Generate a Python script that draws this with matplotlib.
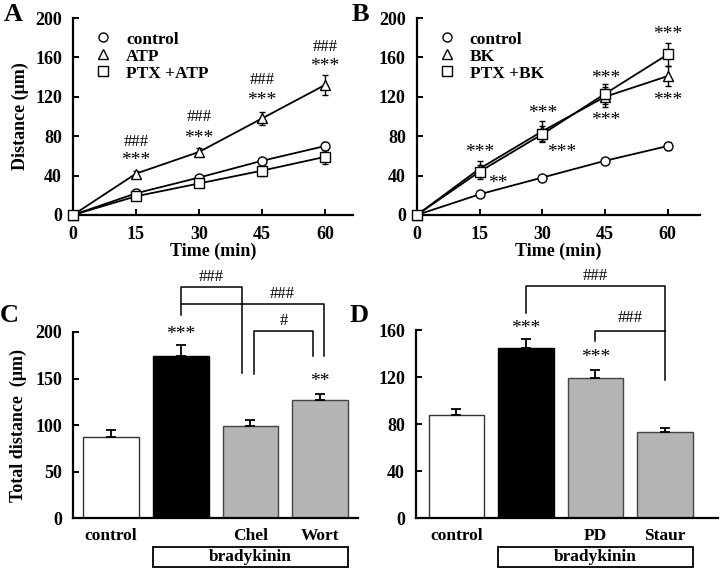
import matplotlib
matplotlib.use("Agg")
import matplotlib.pyplot as plt
from matplotlib.patches import Rectangle
from matplotlib.lines import Line2D

plt.rcParams['font.family'] = ['Liberation Serif', 'DejaVu Serif']
plt.rcParams['font.weight'] = 'bold'

# ---- data ----
time = [0, 15, 30, 45, 60]
a_control = [0, 22, 38, 55, 70]
a_control_err = [0, 2, 2, 3, 4]
a_atp = [0, 42, 64, 98, 132]
a_atp_err = [0, 3, 4, 7, 10]
a_ptx_atp = [0, 19, 32, 45, 59]
a_ptx_atp_err = [0, 2, 2, 5, 7]

b_control = [0, 21, 38, 55, 70]
b_control_err = [0, 2, 2, 3, 4]
b_bk = [0, 47, 85, 120, 141]
b_bk_err = [0, 8, 10, 10, 10]
b_ptx_bk = [0, 44, 82, 123, 163]
b_ptx_bk_err = [0, 7, 8, 10, 12]

c_labels = ['control', '', 'Chel', 'Wort']
c_values = [87, 174, 99, 127]
c_err = [8, 12, 6, 6]
d_labels = ['control', '', 'PD', 'Staur']
d_values = [88, 145, 119, 73]
d_err = [5, 7, 7, 4]

bar_colors = ['white', 'black', '#b4b4b4', '#b4b4b4']

fig = plt.figure(figsize=(7.2, 5.68), dpi=100)

FS = 12.5
TFS = 13
AST = 14

def style_axes(ax):
    for s in ['top', 'right']:
        ax.spines[s].set_visible(False)
    for s in ['left', 'bottom']:
        ax.spines[s].set_linewidth(1.6)
    ax.tick_params(direction='in', width=1.4, length=4, labelsize=TFS, pad=8)
    for t in ax.get_xticklabels() + ax.get_yticklabels():
        t.set_fontweight('bold')

def line_panel(ax, series, labels, xmax):
    markers = ['o', '^', 's']
    handles = []
    for (y, e), lab, m in zip(series, labels, markers):
        ms = 6.5 if m != '^' else 7
        ax.errorbar(time, y, yerr=e, color='black', lw=1.3, marker=m,
                    markersize=ms, markerfacecolor='white',
                    markeredgecolor='black', markeredgewidth=1.0,
                    capsize=2.5, elinewidth=1.0, capthick=1.0,
                    clip_on=False, zorder=3)
        handles.append(Line2D([], [], linestyle='none', marker=m, markersize=ms,
                              markerfacecolor='white', markeredgecolor='black',
                              markeredgewidth=1.0, label=lab))
    ax.set_xlim(0, xmax)
    ax.set_ylim(0, 200)
    ax.set_xticks([0, 15, 30, 45, 60])
    ax.set_yticks([0, 40, 80, 120, 160, 200])
    ax.set_xlabel('Time (min)', fontsize=FS + 0.5, fontweight='bold', labelpad=0)
    style_axes(ax)
    ax.legend(handles=handles, loc='upper left', bbox_to_anchor=(0.04, 0.985), frameon=False,
              handlelength=1.0, handletextpad=0.8, labelspacing=0.05,
              prop={'size': FS, 'weight': 'bold'}, borderaxespad=0.2)

# ---- Panel A ----
axA = fig.add_axes([0.1014, 0.6215, 0.389, 0.3468])
line_panel(axA, [(a_control, a_control_err), (a_atp, a_atp_err), (a_ptx_atp, a_ptx_atp_err)],
           ['control', 'ATP', 'PTX +ATP'], 66.7)
axA.set_ylabel('Distance (μm)', fontsize=FS + 0.5, fontweight='bold', labelpad=4)
for x, yh, ys in zip(time[1:], [74, 99, 137, 171], [55, 78, 116, 151]):
    axA.text(x, yh, '###', ha='center', va='center', fontsize=FS - 0.5, fontweight='normal')
    axA.text(x, ys, '***', ha='center', va='center', fontsize=AST, fontweight='normal')

# ---- Panel B ----
axB = fig.add_axes([0.579, 0.6215, 0.393, 0.3468])
line_panel(axB, [(b_control, b_control_err), (b_bk, b_bk_err), (b_ptx_bk, b_ptx_bk_err)],
           ['control', 'BK', 'PTX +BK'], 67.7)
b_ann = [(15, 63, '***'), (19.4, 32, '**'), (30, 103, '***'), (34.7, 63, '***'),
         (45.2, 139, '***'), (45.2, 96, '***'), (60, 183, '***'), (60, 116, '***')]
for x, y, s in b_ann:
    axB.text(x, y, s, ha='center', va='center', fontsize=AST, fontweight='normal')

# ---- bar panels ----
def bar_panel(ax, values, err, labels, ylim, yticks, xlim):
    xs = list(range(len(values)))
    ax.bar(xs, values, width=0.8, color=bar_colors, edgecolor=['#333333', 'black', '#444444', '#444444'],
           linewidth=1.0, zorder=2)
    ax.errorbar(xs, values, yerr=[[0] * len(err), err], fmt='none', ecolor='black',
                elinewidth=1.3, capsize=3.5, capthick=1.3, zorder=3)
    ax.set_xlim(*xlim)
    ax.set_ylim(*ylim)
    ax.set_yticks(yticks)
    ax.set_xticks([])
    style_axes(ax)
    ax.spines['bottom'].set_zorder(4)
    for x, lab in zip(xs, labels):
        ax.text(x, -0.095, lab, transform=ax.get_xaxis_transform(), ha='center', va='center',
                fontsize=FS, fontweight='bold')
    # bradykinin box
    ax.add_patch(Rectangle((0.6, -0.262), 2.8, 0.107, transform=ax.get_xaxis_transform(),
                           facecolor='white', edgecolor='black', lw=1.3, clip_on=False))
    ax.text(2.0, -0.21, 'bradykinin', transform=ax.get_xaxis_transform(), ha='center',
            va='center', fontsize=FS, fontweight='bold')

def bracket(ax, x1, x2, y, y1, y2, label, ly, lx=None):
    ax.plot([x1, x1, x2, x2], [y1, y, y, y2], color='black', lw=1.1, clip_on=False)
    ax.text((x1 + x2) / 2 if lx is None else lx, ly, label, ha='center', va='center',
            fontsize=FS - 0.5, fontweight='normal', clip_on=False)

# ---- Panel C ----
axC = fig.add_axes([0.1014, 0.088, 0.396, 0.3275])
bar_panel(axC, c_values, c_err, c_labels, (0, 200), [0, 50, 100, 150, 200], (-0.545, 3.545))
axC.set_ylabel('Total distance  (μm)', fontsize=FS + 0.5, fontweight='bold', labelpad=6)
bracket(axC, 1.0, 1.88, 248.7, 218, 156, '###', 259)
bracket(axC, 1.0, 3.06, 230, 230, 174, '###', 241, lx=2.46)
bracket(axC, 2.05, 2.9, 201, 155, 174, '#', 212)
axC.text(1.0, 197, '***', ha='center', va='center', fontsize=AST, fontweight='normal')
axC.text(3.0, 147, '**', ha='center', va='center', fontsize=AST, fontweight='normal')

# ---- Panel D ----
axD = fig.add_axes([0.5778, 0.088, 0.419, 0.331])
bar_panel(axD, d_values, d_err, d_labels, (0, 160), [0, 40, 80, 120, 160], (-0.58, 3.76))
bracket(axD, 1.0, 3.0, 197.4, 174.2, 117.4, '###', 206)
bracket(axD, 2.0, 3.0, 159.4, 150.6, 159.4, '###', 170.5)
axD.text(1.0, 161, '***', ha='center', va='center', fontsize=AST, fontweight='normal')
axD.text(2.0, 136.5, '***', ha='center', va='center', fontsize=AST, fontweight='normal')

# panel letters
for lab, x, y in [('A', 0.005, 0.975), ('B', 0.488, 0.975), ('C', 0.0, 0.445), ('D', 0.486, 0.445)]:
    fig.text(x, y, lab, fontsize=19, fontweight='bold', ha='left', va='center')

fig.savefig('out.png', dpi=100)
